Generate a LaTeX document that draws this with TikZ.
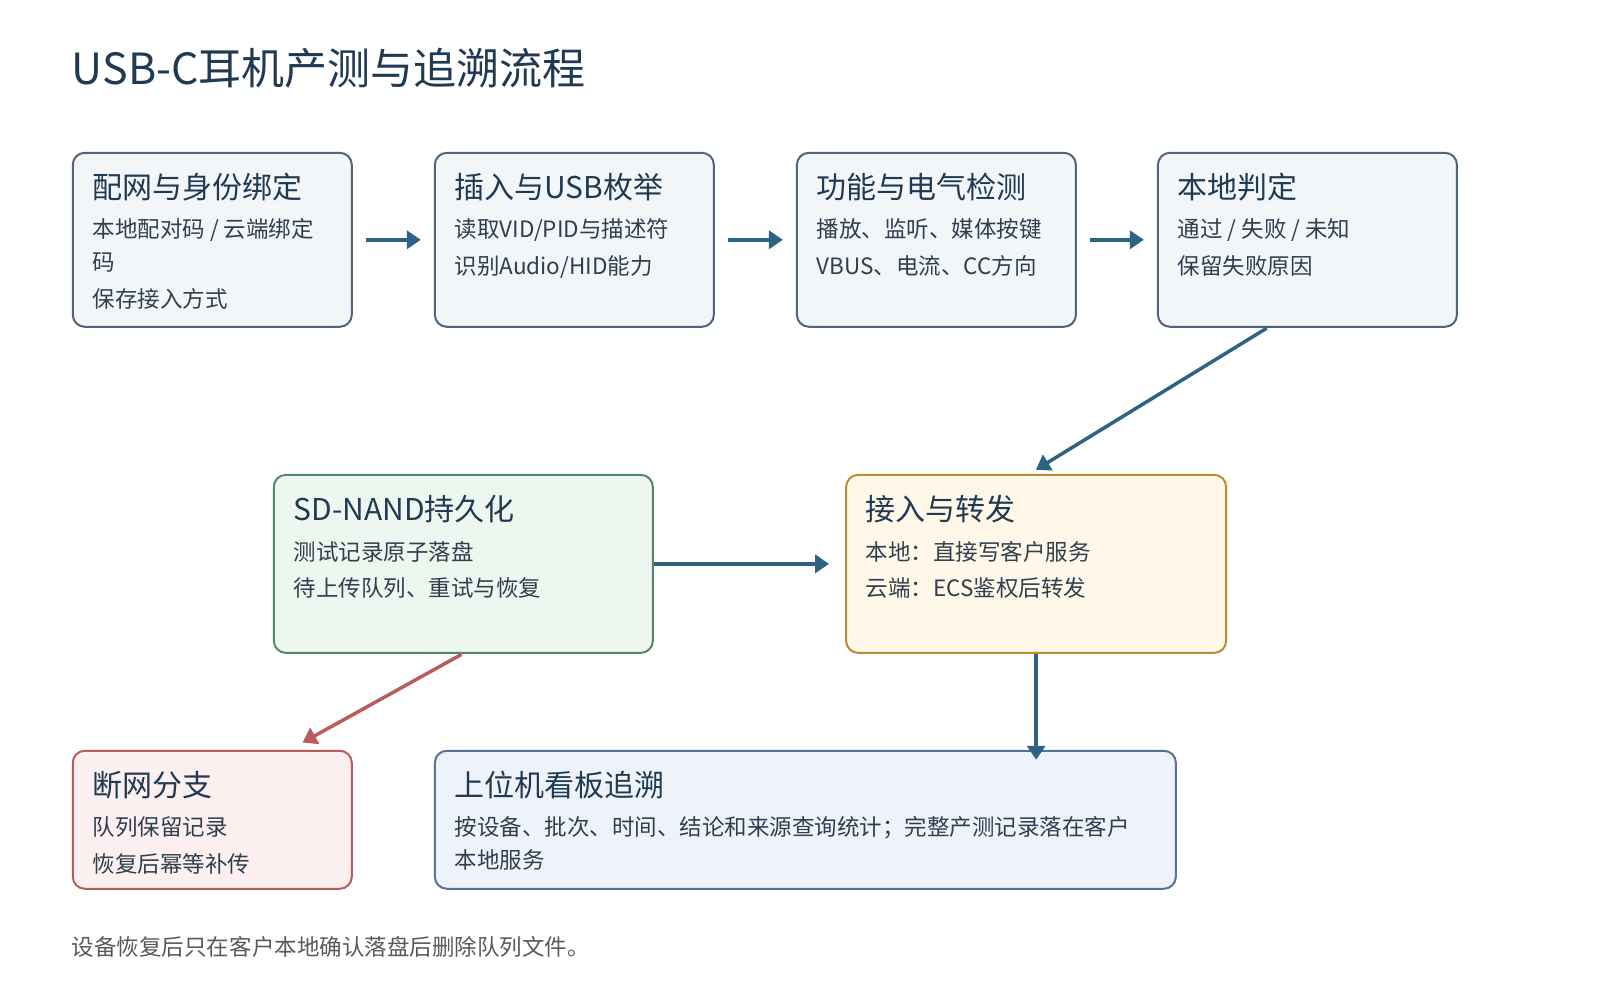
\documentclass[tikz,border=0pt]{standalone}
\usepackage{fontspec}
\setmainfont{Noto Sans CJK SC}
\usetikzlibrary{arrows.meta}
\definecolor{tcol}{HTML}{1F3A52}
\definecolor{bcol}{HTML}{2F3F4F}
\definecolor{acol}{HTML}{2E6384}
\definecolor{f1}{HTML}{F2F6F9}
\definecolor{f2}{HTML}{EEF6F0}
\definecolor{f3}{HTML}{FFF8E8}
\definecolor{f4}{HTML}{FCEFEF}
\definecolor{f5}{HTML}{EEF3FA}
\definecolor{s1}{HTML}{50647A}
\definecolor{s2}{HTML}{4F8A6E}
\definecolor{s3}{HTML}{C08A30}
\definecolor{s4}{HTML}{B85C5C}
\definecolor{s5}{HTML}{5A7099}
\tikzset{
 box/.style={draw, line width=2pt, rounded corners=12pt, anchor=north west, inner sep=0},
 hd/.style={anchor=base west, inner sep=0, text=tcol, font=\fontsize{30}{35}\selectfont},
 tx/.style={anchor=base west, inner sep=0, text=bcol, font=\fontsize{22.5}{27}\selectfont},
 arr/.style={draw=acol, line width=3.5pt, -{Triangle[length=14pt,width=18pt]}},
}
\begin{document}
\begin{tikzpicture}[x=1.0256pt,y=-1.0256pt]
\useasboundingbox (0,0) rectangle (1560,975);
\node[anchor=base west,inner sep=0,text=tcol,font=\fontsize{43}{50}\selectfont] (title) at (70,82) {USB-C耳机产测与追溯流程};
% boxes
\node[box,draw=s1,fill=f1,minimum width=279,minimum height=174] (b1) at (70,148) {};
\node[box,draw=s1,fill=f1,minimum width=279,minimum height=174] (b2) at (423,148) {};
\node[box,draw=s1,fill=f1,minimum width=279,minimum height=174] (b3) at (776,148) {};
\node[box,draw=s1,fill=f1,minimum width=299,minimum height=174] (b4) at (1128,148) {};
\node[box,draw=s2,fill=f2,minimum width=379,minimum height=178] (b5) at (266,462) {};
\node[box,draw=s3,fill=f3,minimum width=380,minimum height=178] (b6) at (824,462) {};
\node[box,draw=s4,fill=f4,minimum width=279,minimum height=138] (b7) at (70,731) {};
\node[box,draw=s5,fill=f5,minimum width=741,minimum height=138] (b8) at (423,731) {};
% texts
\node[hd] (h1) at (90,194) {配网与身份绑定};
\node[tx] (t1a) at (90,232) {本地配对码 / 云端绑定};
\node[tx] (t1b) at (90,264) {码};
\node[tx] (t1c) at (90,300) {保存接入方式};
\node[hd] (h2) at (443,194) {插入与USB枚举};
\node[tx] (t2a) at (443,232) {读取VID/PID与描述符};
\node[tx] (t2b) at (443,268) {识别Audio/HID能力};
\node[hd] (h3) at (796,194) {功能与电气检测};
\node[tx] (t3a) at (796,232) {播放、监听、媒体按键};
\node[tx] (t3b) at (796,268) {VBUS、电流、CC方向};
\node[hd] (h4) at (1148,194) {本地判定};
\node[tx] (t4a) at (1148,232) {通过 / 失败 / 未知};
\node[tx] (t4b) at (1148,268) {保留失败原因};
\node[hd] (h5) at (286,507) {SD-NAND持久化};
\node[tx] (t5a) at (286,546) {测试记录原子落盘};
\node[tx] (t5b) at (286,582) {待上传队列、重试与恢复};
\node[hd] (h6) at (844,507) {接入与转发};
\node[tx] (t6a) at (844,546) {本地：直接写客户服务};
\node[tx] (t6b) at (844,582) {云端：ECS鉴权后转发};
\node[hd] (h7) at (90,777) {断网分支};
\node[tx] (t7a) at (90,815) {队列保留记录};
\node[tx] (t7b) at (90,851) {恢复后幂等补传};
\node[hd] (h8) at (443,777) {上位机看板追溯};
\node[tx] (t8a) at (443,815) {按设备、批次、时间、结论和来源查询统计；完整产测记录落在客户};
\node[tx] (t8b) at (443,847) {本地服务};
\node[anchor=base west,inner sep=0,text=black!65,font=\fontsize{22.5}{27}\selectfont] (foot) at (70,932) {设备恢复后只在客户本地确认落盘后删除队列文件。};
% arrows
\draw[arr] ([xshift=13]b1.east) -- ([xshift=-13]b2.west);
\draw[arr] ([xshift=13]b2.east) -- ([xshift=-13]b3.west);
\draw[arr] ([xshift=13]b3.east) -- ([xshift=-13]b4.west);
\coordinate (c4) at (1235,320);
\coordinate (c6) at (1010,458);
\draw[arr] (c4) -- (c6);
\draw[arr] (b5.east) -- ([xshift=-16]b6.west);
\draw[arr] (b6.south) -- ([yshift=-10]b6.south |- b8.north);
\coordinate (c5) at (450,638);
\coordinate (c7) at (295,724);
\draw[draw=s4,line width=3.5pt,-{Triangle[length=14pt,width=18pt]}] (c5) -- (c7);
\end{tikzpicture}
\end{document}
